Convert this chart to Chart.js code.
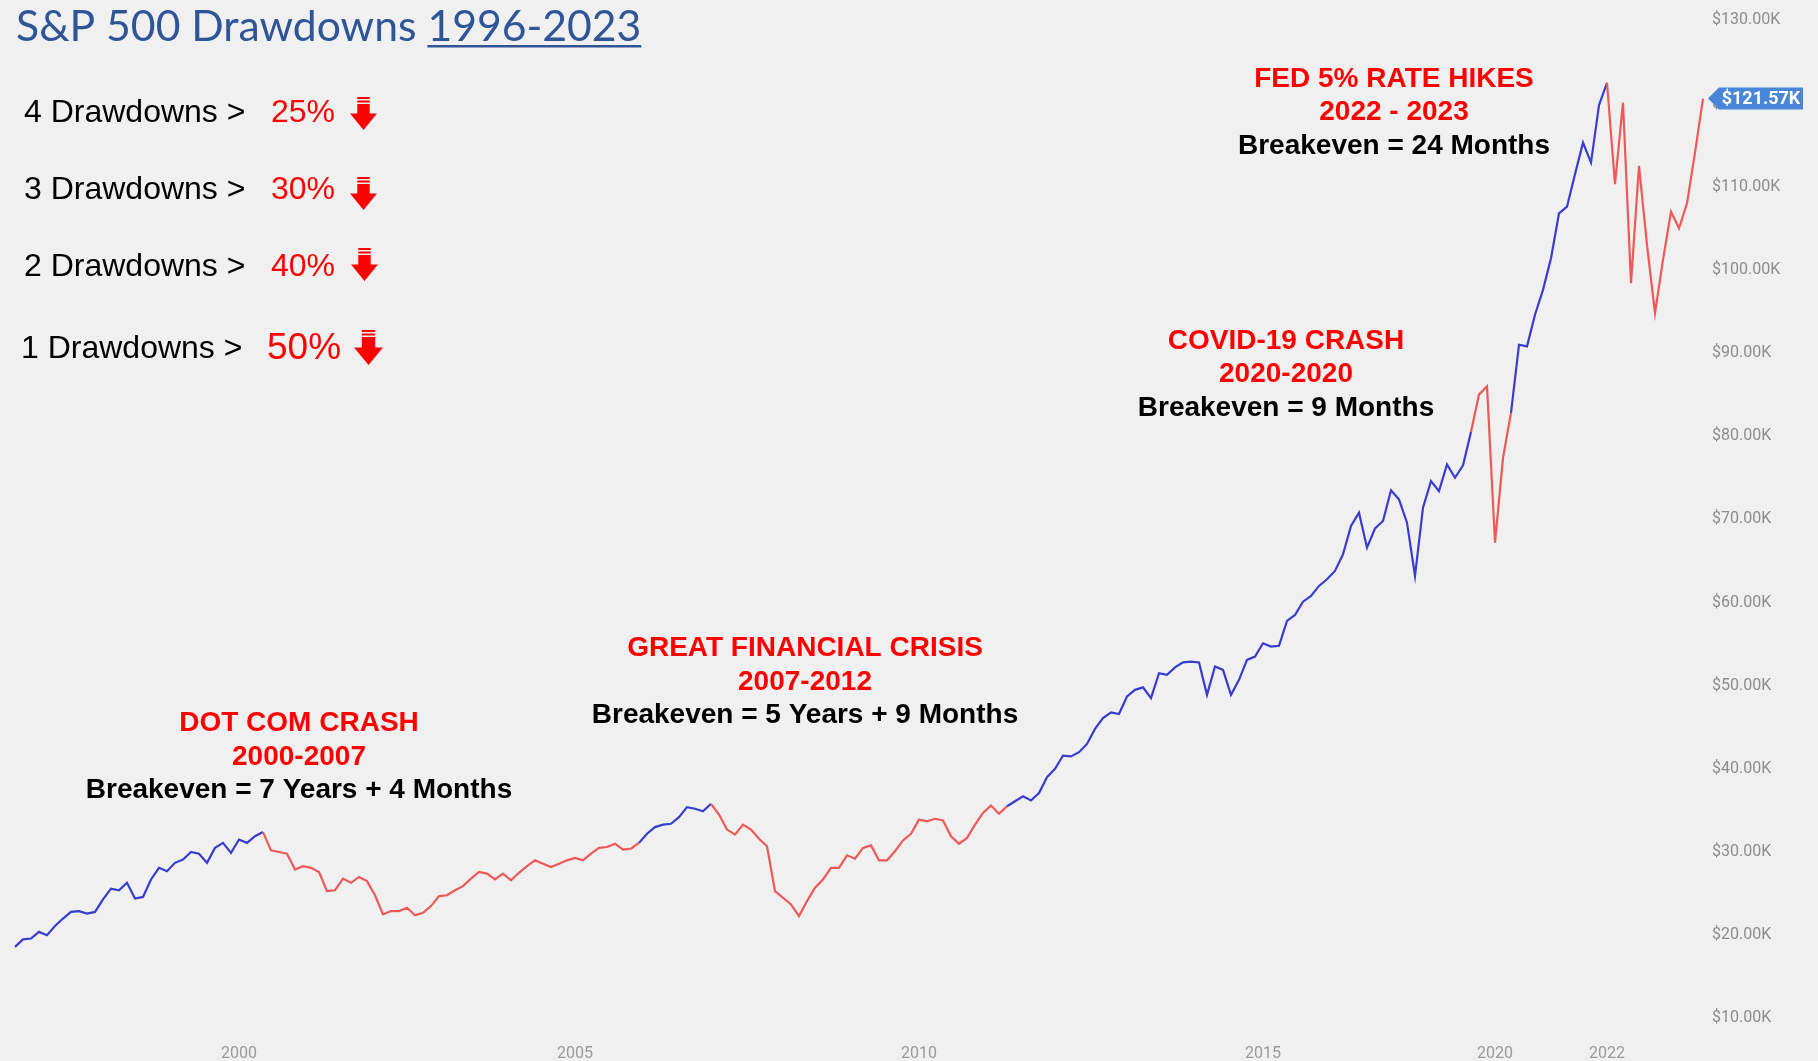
<!DOCTYPE html>
<html>
<head>
<meta charset="utf-8">
<script src="https://cdn.jsdelivr.net/npm/chart.js@4.4.1/dist/chart.umd.min.js"></script>
<style>
  html, body { margin: 0; padding: 0; background: #f0f0f0; }
  #wrap { width: 1818px; height: 1061px; }
</style>
</head>
<body>
<div id="wrap"><canvas id="chart-drawdowns" width="1818" height="1061"></canvas></div>
<script>
// growth of the portfolio, in $K, one value per period (1996 -> 2023)
const values = [
  18.6, 19.5, 19.6, 20.4, 20.0, 21.1, 22.0, 22.8, 22.9, 22.6,
  22.8, 24.3, 25.6, 25.4, 26.3, 24.4, 24.6, 26.7, 28.1, 27.7,
  28.7, 29.1, 30.0, 29.8, 28.7, 30.5, 31.1, 29.9, 31.5, 31.1,
  31.9, 32.4, 30.2, 30.0, 29.8, 27.9, 28.3, 28.1, 27.6, 25.3,
  25.4, 26.8, 26.3, 27.0, 26.5, 24.8, 22.5, 22.9, 22.9, 23.3,
  22.4, 22.7, 23.5, 24.7, 24.8,
  25.4, 25.9, 26.8, 27.6, 27.4, 26.7, 27.4, 26.6, 27.5, 28.3,
  29.0, 28.6, 28.2, 28.6, 29.0, 29.3, 29.0, 29.8, 30.5, 30.6,
  31.0, 30.3, 30.4, 31.1, 32.2, 33.0, 33.3, 33.4, 34.2, 35.4,
  35.2, 34.9, 35.8, 34.5, 32.7, 32.1, 33.3, 32.7, 31.6, 30.7,
  25.3, 24.5, 23.7, 22.3, 24.1, 25.7, 26.7, 28.1, 28.1, 29.6,
  29.2, 30.5,
  30.8, 29.0, 29.0, 30.1, 31.4, 32.2, 33.9, 33.7, 34.0, 33.8,
  31.9, 31.0, 31.7, 33.3, 34.7, 35.6, 34.6, 35.5, 36.1, 36.7,
  36.2, 37.1, 39.0, 40.0, 41.6, 41.5, 42.0, 43.0, 44.8,
  46.1, 46.8, 46.6, 48.7, 49.5, 49.8, 48.5, 51.5, 51.3, 52.2,
  52.8, 52.9, 52.8, 48.9, 52.3, 51.9, 48.9, 50.7, 53.1, 53.5,
  55.1, 54.7, 54.8, 57.8, 58.5, 60.1, 60.8, 62.0, 62.8, 63.8,
  65.8, 69.2, 70.8, 66.6, 68.9, 69.8,
  73.5, 72.4, 69.6, 63.2, 71.4, 74.6, 73.4, 76.6, 75.0, 76.5, 80.5,
  85.0, 86.0, 67.2, 77.4, 82.8,
  91.0, 90.8, 94.6, 97.6, 101.4, 106.8, 107.6, 111.5,
  115.3, 112.9, 119.8, 122.5, 110.3, 120.1, 98.4, 112.5, 103.0, 94.8,
  101.2, 107.0, 105.0, 108.0, 114.1, 120.6
];
const lastQuote = 121.57;   // value printed on the price badge

// drawdown periods (peak -> breakeven), as period indexes
const drawdownStart = [31, 87, 182, 199];
const drawdownEnd = [78, 124, 187, 211];

// x axis year labels and the period they sit on
const yearTickIndex = [28, 70, 113, 156, 185, 199];
const yearTickLabels = ['2000', '2005', '2010', '2015', '2020', '2022'];

const priceTicks = [10, 20, 30, 40, 50, 60, 70, 80, 90, 100, 110, 120, 130];

const drawdownCounts = ['4 Drawdowns >', '3 Drawdowns >', '2 Drawdowns >', '1 Drawdowns >'];
const drawdownDepths = ['25%', '30%', '40%', '50%'];

const crashNames = ['DOT COM CRASH', 'GREAT FINANCIAL CRISIS', 'COVID-19 CRASH', 'FED 5% RATE HIKES'];
const crashYears = ['2000-2007', '2007-2012', '2020-2020', '2022 - 2023'];
const crashBreakeven = [
  'Breakeven = 7 Years + 4 Months',
  'Breakeven = 5 Years + 9 Months',
  'Breakeven = 9 Months',
  'Breakeven = 24 Months'
];

const BLUE = '#3a3cce';
const RED = '#ee5858';
const periods = values.map((v, i) => i);

function inDrawdown(i) {
  for (let k = 0; k < drawdownStart.length; k++) {
    if (i >= drawdownStart[k] && i < drawdownEnd[k]) return true;
  }
  return false;
}

function drawArrow(c, x, y, w, h) {
  const sw = w * 0.46;
  const sx = x + (w - sw) / 2;
  c.fillStyle = '#ff0000';
  c.fillRect(sx, y, sw, 2);
  c.fillRect(sx, y + 3.5, sw, 2);
  c.fillRect(sx, y + 7, sw, h * 0.55 - 7);
  c.beginPath();
  c.moveTo(x, y + h * 0.5);
  c.lineTo(x + w, y + h * 0.5);
  c.lineTo(x + w / 2, y + h);
  c.closePath();
  c.fill();
}

const overlay = {
  id: 'overlay',
  beforeDraw(chart) {
    const c = chart.ctx;
    c.save();
    c.fillStyle = '#f0f0f0';
    c.fillRect(0, 0, chart.width, chart.height);
    c.restore();
  },
  afterDraw(chart) {
    const c = chart.ctx;
    c.save();

    // title, sized to span the same width as the original
    const head = 'S&P 500 Drawdowns ';
    const span = '1996-2023';
    c.font = '46px Lato';
    const fit = 46 * 625 / c.measureText(head + span).width;
    c.font = fit.toFixed(1) + 'px Lato';
    c.fillStyle = '#2f5597';
    c.textAlign = 'left';
    c.textBaseline = 'alphabetic';
    c.fillText(head, 16, 41);
    const hw = c.measureText(head).width;
    c.fillText(span, 16 + hw, 41);
    const yw = c.measureText(span).width;
    c.fillRect(16 + hw, 45, yw, 2.5);

    // drawdown list
    const rowY = [113, 190, 267.5, 349];
    const rowX = [24, 24, 24, 21];
    const pctX = [271, 271, 271, 267];
    const pctSize = [32, 32, 32, 37];
    const arrowX = [350, 350, 351, 354];
    const arrowY = [97, 177, 248, 330];
    c.textBaseline = 'middle';
    drawdownCounts.forEach((t, i) => {
      c.font = '32px "Liberation Sans"';
      c.fillStyle = '#000';
      c.fillText(t, rowX[i], rowY[i]);
      c.font = pctSize[i] + 'px "Liberation Sans"';
      c.fillStyle = '#ff0000';
      c.fillText(drawdownDepths[i], pctX[i], rowY[i]);
      drawArrow(c, arrowX[i], arrowY[i], i === 3 ? 29 : 27, i === 3 ? 35 : 33);
    });

    // crash annotations
    const noteX = [299, 805, 1286, 1394];
    const noteY = [723.5, 648.5, 341, 79];
    c.textAlign = 'center';
    c.font = 'bold 28px "Liberation Sans"';
    crashNames.forEach((t, i) => {
      c.fillStyle = '#ff0000';
      c.fillText(t, noteX[i], noteY[i]);
      c.fillText(crashYears[i], noteX[i], noteY[i] + 33.5);
      c.fillStyle = '#000';
      c.fillText(crashBreakeven[i], noteX[i], noteY[i] + 67);
    });

    // last value badge
    const meta = chart.getDatasetMeta(0);
    const pt = meta.data[meta.data.length - 1];
    const bx = pt.x + 5, by = pt.y;
    c.fillStyle = '#4a86d8';
    c.beginPath();
    c.moveTo(bx, by);
    c.lineTo(bx + 11, by - 11);
    c.lineTo(1803, by - 11);
    c.lineTo(1803, by + 11);
    c.lineTo(bx + 11, by + 11);
    c.closePath();
    c.fill();
    c.fillStyle = '#ffffff';
    c.font = 'bold 18px Roboto';
    c.textAlign = 'center';
    c.fillText('$' + lastQuote.toFixed(2) + 'K', (bx + 11 + 1803) / 2, by + 1);

    c.restore();
  }
};

new Chart(document.getElementById('chart-drawdowns').getContext('2d'), {
  type: 'line',
  data: {
    labels: periods,
    datasets: [{
      data: values,
      borderWidth: 2.2,
      pointRadius: 0,
      tension: 0,
      borderColor: BLUE,
      segment: {
        borderColor: ctx => inDrawdown(ctx.p0DataIndex) ? RED : BLUE
      }
    }]
  },
  options: {
    responsive: false,
    animation: false,
    devicePixelRatio: 1,
    layout: { padding: { left: 15, top: 0, right: 0, bottom: 0 } },
    plugins: {
      legend: { display: false },
      tooltip: { enabled: false }
    },
    scales: {
      x: {
        grid: { display: false, drawTicks: false },
        border: { display: false },
        ticks: {
          autoSkip: false,
          maxRotation: 0,
          padding: 12,
          color: '#9a9a9a',
          font: { family: 'Roboto', size: 16 },
          callback: (v, i) => {
            const k = yearTickIndex.indexOf(i);
            return k >= 0 ? yearTickLabels[k] : '';
          }
        },
        afterFit: s => { s.height = 29; s.paddingLeft = 0; s.paddingRight = 0; }
      },
      y: {
        position: 'right',
        min: 8.36,
        max: 132.45,
        grid: { display: false, drawTicks: false },
        border: { display: false },
        afterBuildTicks: s => { s.ticks = priceTicks.map(v => ({ value: v })); },
        ticks: {
          padding: 9,
          color: '#8c8c8c',
          font: { family: 'Roboto', size: 16 },
          callback: v => '$' + v.toFixed(2) + 'K'
        },
        afterFit: s => { s.width = 115; s.paddingTop = 0; s.paddingBottom = 0; }
      }
    }
  },
  plugins: [overlay]
});
</script>
</body>
</html>
